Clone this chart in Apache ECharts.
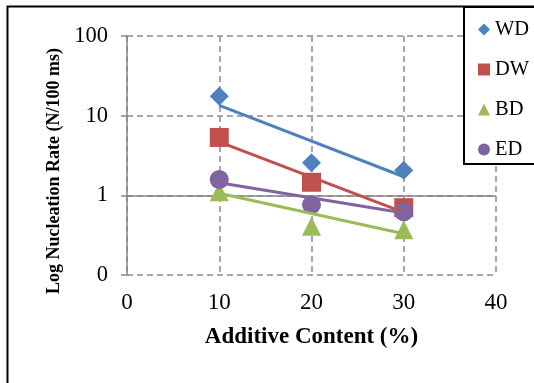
<!DOCTYPE html>
<html><head><meta charset="utf-8">
<script src="https://cdn.jsdelivr.net/npm/echarts@6/dist/echarts.min.js"></script>
<style>html,body{margin:0;padding:0;background:#fff}#c{width:534px;height:383px}</style>
</head><body><div id="c"></div>
<script>
var xValues = [10, 20, 30];
var seriesNames = ['WD', 'DW', 'BD', 'ED'];
var WD = [17.5, 2.56, 2.07];
var DW = [5.33, 1.46, 0.70];
var BD = [1.11, 0.41, 0.37];
var ED = [1.58, 0.76, 0.62];
// trend line end points (x = 10 and x = 30)
var trendX = [10, 30];
var WD_trend = [13.5, 1.71];
var DW_trend = [4.7, 0.61];
var BD_trend = [1.06, 0.33];
var ED_trend = [1.44, 0.60];
var yTicks = [0.1, 1, 10, 100];

var colors = ['#4F81BD', '#C0504D', '#9BBB59', '#8064A2'];
var symbols = ['diamond', 'rect', 'triangle', 'circle'];
var values = [WD, DW, BD, ED];
var trends = [WD_trend, DW_trend, BD_trend, ED_trend];
var serif = '"Liberation Serif","Times New Roman",serif';

var series = [];
seriesNames.forEach(function (n, i) {
  var s = {
    name: n, type: 'scatter', z: 2,
    symbol: symbols[i], symbolSize: 19,
    itemStyle: { color: colors[i], opacity: 1 },
    data: xValues.map(function (x, k) { return [x, values[i][k]]; })
  };
  if (i === 0) {
    s.markLine = {
      silent: true, symbol: ['none', 'none'], z: 1,
      label: { show: false },
      lineStyle: { color: '#868686', type: 'solid', width: 1.5 },
      data: [{ yAxis: 1 }]
    };
  }
  series.push(s);
});
seriesNames.forEach(function (n, i) {
  series.push({
    name: n + ' trend', type: 'line', z: 3, symbol: 'none',
    lineStyle: { color: colors[i], width: 3 },
    data: trendX.map(function (x, k) { return [x, trends[i][k]]; })
  });
});

var chart = echarts.init(document.getElementById('c'));
chart.setOption({
  animation: false,
  backgroundColor: '#fff',
  grid: { left: 127, right: 38, top: 36, bottom: 108 },
  xAxis: {
    type: 'value', min: 0, max: 40, interval: 10,
    axisLine: { show: false }, axisTick: { show: false },
    axisLabel: { color: '#000', fontFamily: serif, fontSize: 23, margin: 16 },
    splitLine: { show: true, lineStyle: { color: '#8c8c8c', type: [6, 4], width: 1.5 } },
    name: 'Additive Content (%)', nameLocation: 'middle', nameGap: 51,
    nameTextStyle: { color: '#000', fontFamily: serif, fontSize: 23, fontWeight: 'bold' }
  },
  yAxis: {
    type: 'log', logBase: 10, min: yTicks[0], max: yTicks[yTicks.length - 1],
    axisLine: { show: true, lineStyle: { color: '#868686', width: 1.5 } },
    axisTick: { show: true, length: 6, lineStyle: { color: '#868686', width: 1.5 } },
    minorTick: { show: false },
    axisLabel: { color: '#000', fontFamily: serif, fontSize: 22.5, margin: 19,
      formatter: function (v) { return (+v).toFixed(0); } },
    splitLine: { show: true, lineStyle: { color: '#8c8c8c', type: [6, 4], width: 1.5 } }
  },
  legend: {
    orient: 'vertical', left: 473, top: 14, z: 5,
    itemWidth: 12, itemHeight: 12, itemGap: 19,
    data: seriesNames.map(function (n, i) { return { name: n, icon: symbols[i] }; }),
    textStyle: { color: '#000', fontFamily: serif, fontSize: 20.5 }
  },
  graphic: [
    { type: 'rect', z: 3, shape: { x: 464, y: 7, width: 200, height: 157 },
      style: { fill: '#fff', stroke: '#000', lineWidth: 2 } },
    { type: 'rect', z: 10, shape: { x: 7.5, y: 6.5, width: 700, height: 600 },
      style: { fill: 'transparent', stroke: '#000', lineWidth: 2 } },
    { type: 'text', z: 10, x: 54, y: 171, rotation: Math.PI / 2,
      style: { text: 'Log Nucleation Rate (N/100 ms)', fill: '#000',
        font: 'bold 18px ' + serif, textAlign: 'center', textVerticalAlign: 'middle' } }
  ],
  series: series
});
</script></body></html>
